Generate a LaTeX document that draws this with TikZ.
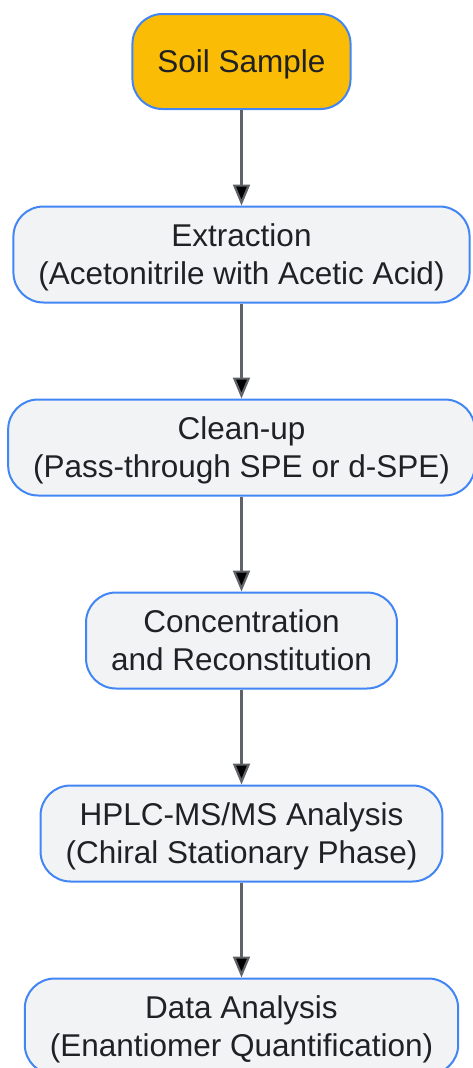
\documentclass[tikz,border=0pt]{standalone}
\usepackage{fontspec}
\setmainfont{Liberation Sans}
\usetikzlibrary{positioning, arrows.meta}

\definecolor{stepblue}{HTML}{4285F4}
\definecolor{stepgray}{HTML}{F1F3F4}
\definecolor{startyellow}{HTML}{FBBC05}
\definecolor{arrowgray}{HTML}{5F6368}
\definecolor{textgray}{HTML}{202124}

\begin{document}
\begin{tikzpicture}[x=1pt, y=1pt, node distance=193pt,
    stepbox/.style={draw=stepblue, line width=2pt, fill=stepgray, rounded corners=30pt,
        align=center, inner xsep=25pt, minimum height=96pt, text=textgray, text depth=0pt,
        font=\fontsize{31.5}{38}\selectfont},
    flow/.style={-{Triangle[length=21pt, width=17pt]}, draw=arrowgray, line width=2.2pt}]
        \useasboundingbox (0,0) rectangle (472,-1068);
        \node[stepbox, fill=startyellow, minimum height=95pt] (soil) at (241.5,-61.5) {Soil Sample};
        \node[stepbox] (extract) [below of=soil] {Extraction\\(Acetonitrile with Acetic Acid)};
        \node[stepbox] (cleanup) [below of=extract] {Clean-up\\(Pass-through SPE or d-SPE)};
        \node[stepbox] (conc) [below of=cleanup] {Concentration\\and Reconstitution};
        \node[stepbox] (hplc) [below of=conc] {HPLC-MS/MS Analysis\\(Chiral Stationary Phase)};
        \node[stepbox] (data) [below of=hplc] {Data Analysis\\(Enantiomer Quantification)};
        
        \path[flow]
        (soil) edge (extract)
        (extract) edge (cleanup)
        (cleanup) edge (conc)
        (conc) edge (hplc)
        (hplc) edge (data);
    \end{tikzpicture}
\end{document}
